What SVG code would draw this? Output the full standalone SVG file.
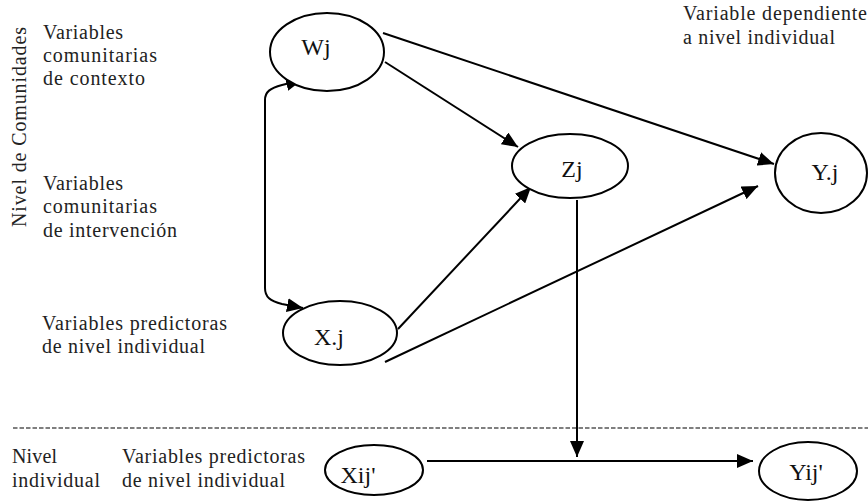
<svg xmlns="http://www.w3.org/2000/svg" width="868" height="502" viewBox="0 0 868 502">
<style>
text{font-family:"Liberation Serif","DejaVu Serif",serif}
.lbl{font-size:20px;fill:#222}
.nl{font-size:24px;fill:#111;text-anchor:middle}
.node{fill:#fff;stroke:#000;stroke-width:2}
.edge{fill:none;stroke:#000;stroke-width:2}
</style>
<defs>
<marker id="ah" viewBox="0 0 16 14" refX="16" refY="7" markerWidth="16" markerHeight="14" markerUnits="userSpaceOnUse" orient="auto-start-reverse">
<path d="M0,0 L16,7 L0,14 Z" fill="#000"/>
</marker>
</defs>
<rect width="868" height="502" fill="#fff"/>
<g id="labels">
<text class="lbl" transform="translate(26,227) rotate(-90)" textLength="200" lengthAdjust="spacing">Nivel de Comunidades</text>
<text class="lbl" x="43" y="39" textLength="80" lengthAdjust="spacing">Variables</text>
<text class="lbl" x="43" y="62" textLength="114" lengthAdjust="spacing">comunitarias</text>
<text class="lbl" x="43" y="85" textLength="102" lengthAdjust="spacing">de contexto</text>
<text class="lbl" x="43" y="190" textLength="80" lengthAdjust="spacing">Variables</text>
<text class="lbl" x="43" y="213" textLength="114" lengthAdjust="spacing">comunitarias</text>
<text class="lbl" x="43" y="237" textLength="134" lengthAdjust="spacing">de intervención</text>
<text class="lbl" x="42" y="330" textLength="185" lengthAdjust="spacing">Variables predictoras</text>
<text class="lbl" x="42" y="353" textLength="163" lengthAdjust="spacing">de nivel individual</text>
<text class="lbl" x="683" y="20" textLength="184" lengthAdjust="spacing">Variable dependiente</text>
<text class="lbl" x="683" y="44" textLength="152" lengthAdjust="spacing">a nivel individual</text>
<text class="lbl" x="12" y="463" textLength="45" lengthAdjust="spacing">Nivel</text>
<text class="lbl" x="12" y="487" textLength="88" lengthAdjust="spacing">individual</text>
<text class="lbl" x="122" y="463" textLength="183" lengthAdjust="spacing">Variables predictoras</text>
<text class="lbl" x="122" y="487" textLength="163" lengthAdjust="spacing">de nivel individual</text>
</g>
<line x1="13" y1="428" x2="868" y2="428" stroke="#555" stroke-width="1.3" stroke-dasharray="4.5,2"/>
<g id="connectors">
<path class="edge" d="M385,62 L518,147" marker-end="url(#ah)"/>
<path class="edge" d="M383,33 L774,164" marker-end="url(#ah)"/>
<path class="edge" d="M398,329 L531,187" marker-end="url(#ah)"/>
<path class="edge" d="M385,362 L758,186" marker-end="url(#ah)"/>
<path class="edge" d="M577,200 L577,457" marker-end="url(#ah)"/>
<path class="edge" d="M427,461 L753,461" marker-end="url(#ah)"/>
<path class="edge" d="M302,80 L282,85 C270,88 265,92 265,100 L265,288 C265,297 270,301 282,304 L303,308" marker-start="url(#ah)" marker-end="url(#ah)"/>
</g>
<g id="node-Wj">
<ellipse class="node" cx="327" cy="52" rx="57" ry="39"/>
<text class="nl" x="316" y="55">Wj</text>
</g>
<g id="node-Zj">
<ellipse class="node" cx="570" cy="166" rx="58" ry="32"/>
<text class="nl" x="572" y="177">Zj</text>
</g>
<g id="node-Yj">
<ellipse class="node" cx="821" cy="173" rx="46" ry="40"/>
<text class="nl" x="825" y="180">Y.j</text>
</g>
<g id="node-Xj">
<ellipse class="node" cx="340" cy="333" rx="57" ry="32"/>
<text class="nl" x="329" y="345">X.j</text>
</g>
<g id="node-Xij">
<ellipse class="node" cx="374" cy="470" rx="49" ry="25"/>
<text class="nl" x="358" y="483">Xij'</text>
</g>
<g id="node-Yij">
<ellipse class="node" cx="808" cy="471" rx="49" ry="29"/>
<text class="nl" x="806" y="480">Yij'</text>
</g>
</svg>
